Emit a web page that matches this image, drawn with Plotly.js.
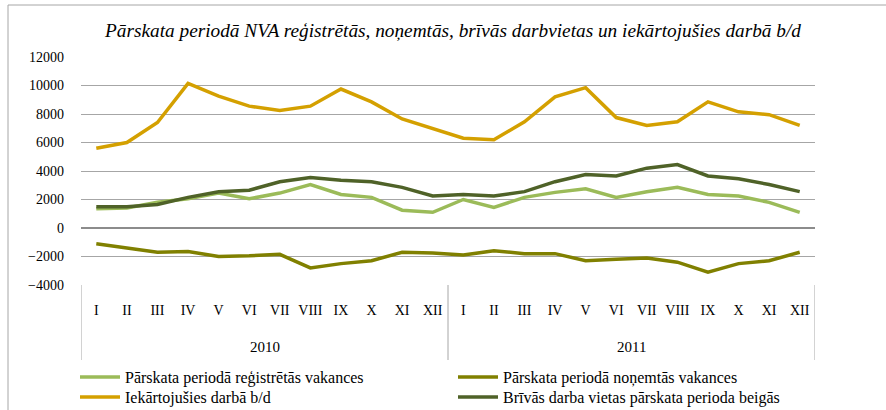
<!DOCTYPE html>
<html>
<head>
<meta charset="utf-8">
<script src="https://cdn.plot.ly/plotly-3.0.1.min.js"></script>
<style>
html,body{margin:0;padding:0;background:#fff;}
#chart{width:886px;height:410px;}
</style>
</head>
<body>
<div id="chart"></div>
<script>
const years = ["2010","2010","2010","2010","2010","2010","2010","2010","2010","2010","2010","2010",
               "2011","2011","2011","2011","2011","2011","2011","2011","2011","2011","2011","2011"];
const months = ["I","II","III","IV","V","VI","VII","VIII","IX","X","XI","XII",
                "I","II","III","IV","V","VI","VII","VIII","IX","X","XI","XII"];

const registered = [1350,1400,1800,2050,2450,2050,2450,3050,2350,2150,1250,1100,
                    2000,1450,2150,2500,2750,2150,2550,2850,2350,2250,1800,1100];
const withdrawn  = [-1100,-1400,-1700,-1650,-2000,-1950,-1850,-2800,-2500,-2300,-1700,-1750,
                    -1900,-1600,-1800,-1800,-2300,-2200,-2100,-2400,-3100,-2500,-2300,-1700];
const employed   = [5600,6000,7400,10150,9250,8550,8250,8550,9750,8850,7650,7000,
                    6300,6200,7450,9200,9850,7750,7200,7450,8850,8150,7950,7200];
const vacant     = [1500,1500,1650,2150,2550,2650,3250,3550,3350,3250,2850,2250,
                    2350,2250,2550,3250,3750,3650,4200,4450,3650,3450,3050,2550];

const names = ["Pārskata periodā reģistrētās vakances",
               "Pārskata periodā noņemtās vakances",
               "Iekārtojušies darbā b/d",
               "Brīvās darba vietas pārskata perioda beigās"];
const colors = ["#9BBB59","#808000","#D4A000","#4F6228"];
const series = [registered, withdrawn, employed, vacant];
const legendOf = ["legend","legend","legend2","legend2"];

const serif = "'Liberation Serif', 'Times New Roman', serif";
const idx = months.map((_, i) => i);

const traces = series.map((s,i)=>({
  type:"scatter", mode:"lines",
  x:idx, y:s,
  name:names[i],
  legend:legendOf[i],
  line:{color:colors[i], width:3.5}
}));

const L=81, R=815, T=57, B=285, W=886, H=410;
const pw=R-L, ph=B-T;
const px = v => (v-L)/pw;
const py = v => (B-v)/ph;

// year groups -> label annotations and dividers
const groups = [];
years.forEach((y,i)=>{
  if(!groups.length || groups[groups.length-1].name!==y) groups.push({name:y, start:i, end:i});
  else groups[groups.length-1].end=i;
});
const annotations = groups.map(g=>({
  text:g.name, x:(g.start+g.end)/2, xref:"x", y:py(347), yref:"paper",
  xanchor:"center", yanchor:"middle", showarrow:false,
  font:{family:serif, size:15, color:"#000"}
}));
const divX = [groups[0].start-0.5].concat(groups.map(g=>g.end+0.5));
const shapes = divX.map(x=>({type:"line", xref:"x", yref:"paper", x0:x, x1:x, y0:py(285), y1:py(360),
                              line:{color:"#a6a6a6", width:1}}));
shapes.push({type:"rect", xref:"paper", yref:"paper", x0:px(8), x1:px(1000), y0:py(500), y1:py(5),
             line:{color:"#a6a6a6", width:1}, fillcolor:"rgba(0,0,0,0)", layer:"below"});

const legendBase = {orientation:"h", xanchor:"left", yanchor:"middle",
  entrywidth:323, entrywidthmode:"pixels", itemwidth:40, tracegroupgap:0,
  font:{family:serif, size:16, color:"#000"}, bgcolor:"rgba(0,0,0,0)", borderwidth:0, traceorder:"normal"};

const layout = {
  width:W, height:H,
  margin:{l:L, r:W-R, t:T, b:H-B, pad:0, autoexpand:false},
  paper_bgcolor:"#fff", plot_bgcolor:"#fff",
  font:{family:serif, size:14, color:"#000"},
  title:{text:"<i>Pārskata periodā NVA reģistrētās, noņemtās, brīvās darbvietas un iekārtojušies darbā b/d</i>",
         font:{family:serif, size:19.3, color:"#000"},
         x:px(453), xref:"paper", xanchor:"center", y:1-30/H, yref:"container", yanchor:"middle"},
  showlegend:true,
  legend:Object.assign({}, legendBase, {x:px(75), y:py(377)}),
  legend2:Object.assign({}, legendBase, {x:px(75), y:py(397)}),
  xaxis:{range:[-0.5, months.length-0.5], tickmode:"array", tickvals:idx, ticktext:months,
         showgrid:false, showline:false, zeroline:false, automargin:false,
         ticks:"", ticklabelstandoff:15, tickfont:{family:serif, size:14, color:"#000"}},
  yaxis:{range:[-4000,12000], dtick:2000, tick0:0, tickformat:"d", showgrid:true, gridcolor:"#a6a6a6", gridwidth:1,
         zeroline:true, zerolinecolor:"#8c8c8c", zerolinewidth:1.5, showline:false, ticks:"", automargin:false,
         ticklabelstandoff:16, tickfont:{family:serif, size:14, color:"#000"}},
  shapes:shapes,
  annotations:annotations
};

Plotly.newPlot("chart", traces, layout, {displayModeBar:false, staticPlot:true});
</script>
</body>
</html>
